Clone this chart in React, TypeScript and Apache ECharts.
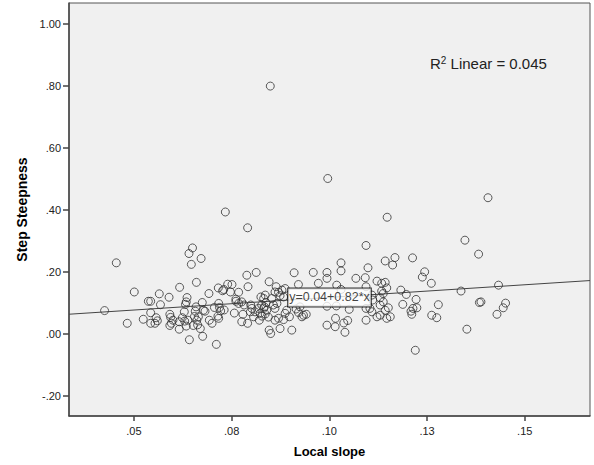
import React, { useEffect, useRef } from "react";
import * as echarts from "echarts";

// Local slope (x) values
const localSlope = [
  0.0425, 0.0455, 0.0483, 0.0501, 0.0524, 0.0537, 0.0543, 0.0565, 0.0568, 0.0543,
  0.0557, 0.0543, 0.0554, 0.0560, 0.0590, 0.0617, 0.0592, 0.0594, 0.0592, 0.0596,
  0.0600, 0.0616, 0.0616, 0.0641, 0.0650, 0.0647, 0.0672, 0.0660, 0.0636, 0.0634,
  0.0632, 0.0629, 0.0624, 0.0630, 0.0634, 0.0638, 0.0642, 0.0659, 0.0657, 0.0655,
  0.0661, 0.0652, 0.0663, 0.0670, 0.0675, 0.0678, 0.0676, 0.0692, 0.0693, 0.0700,
  0.0706, 0.0711, 0.0716, 0.0727, 0.0730, 0.0740, 0.0747, 0.0717, 0.0719, 0.0722,
  0.0715, 0.0717, 0.0731, 0.0682, 0.0665, 0.0734,
  0.0791, 0.0849, 0.0996, 0.0761, 0.0761, 0.0757, 0.0789, 0.0813, 0.0792, 0.0846,
  0.0910, 0.0959, 0.0994, 0.0751, 0.0768, 0.0768, 0.0776, 0.0782, 0.0779, 0.0776,
  0.0791, 0.0806, 0.0810, 0.0802, 0.0798, 0.0799, 0.0821, 0.0823, 0.0819, 0.0827,
  0.0832, 0.0836, 0.0825, 0.0838, 0.0832, 0.0834, 0.0840, 0.0828, 0.0836, 0.0844,
  0.0853, 0.0861, 0.0866, 0.0857, 0.0861, 0.0870, 0.0887, 0.0879, 0.0883, 0.0874,
  0.0846, 0.0850, 0.0874, 0.0904, 0.0861, 0.0870, 0.0883, 0.0887, 0.0898, 0.0891,
  0.0915, 0.0921, 0.0930, 0.0934, 0.0941, 0.0925, 0.0921, 0.0972, 0.0994, 0.0994,
  0.0864, 0.1019, 0.1030, 0.0994, 0.1018, 0.1016, 0.1037, 0.1047, 0.1040, 0.1051,
  0.1148, 0.1094, 0.1030, 0.1030, 0.1143, 0.1168, 0.1162, 0.1099, 0.1213, 0.1244,
  0.1238, 0.1068, 0.1092, 0.1094, 0.1122, 0.1134, 0.1143, 0.1147, 0.1261, 0.1183,
  0.1197, 0.1222, 0.1188, 0.1214, 0.1209, 0.1224, 0.1211, 0.1262, 0.1275, 0.1015,
  0.1094, 0.1094, 0.1220, 0.1134, 0.1138, 0.1130, 0.1138, 0.1130, 0.1151, 0.1143,
  0.1156, 0.1147, 0.1130, 0.1122, 0.1109, 0.1104, 0.1111, 0.1109,
  0.1382, 0.1347, 0.1406, 0.1337, 0.1433, 0.1279, 0.1388, 0.1384, 0.1451, 0.1445,
  0.1429, 0.1352,
];

// Step steepness (y) values, same order
const stepSteepness = [
  0.075, 0.229, 0.034, 0.135, 0.047, 0.105, 0.105, 0.129, 0.094, 0.068,
  0.052, 0.034, 0.034, 0.042, 0.118, 0.150, 0.063, 0.053, 0.027, 0.034,
  0.044, 0.015, 0.039, 0.259, 0.277, 0.224, 0.243, 0.166, 0.117, 0.103,
  0.095, 0.071, 0.052, 0.041, 0.025, 0.044, -0.019, 0.087, 0.073, 0.056,
  0.044, 0.027, 0.029, 0.017, 0.101, 0.076, -0.008, 0.130, 0.044, 0.034,
  0.085, -0.034, 0.148, 0.139, 0.143, 0.160, 0.135, 0.098, 0.085, 0.074,
  0.057, 0.050, 0.077, 0.073, 0.055, 0.393,
  0.342, 0.799, 0.501, 0.112, 0.105, 0.067, 0.189, 0.198, 0.152, 0.168,
  0.197, 0.198, 0.198, 0.159, 0.134, 0.098, 0.103, 0.093, 0.063, 0.039,
  0.034, 0.055, 0.071, 0.082, 0.071, 0.093, 0.044, 0.066, 0.082, 0.093,
  0.114, 0.125, 0.119, 0.101, 0.082, 0.087, 0.076, 0.057, 0.064, 0.054,
  0.114, 0.135, 0.098, 0.093, 0.082, 0.134, 0.146, 0.141, 0.119, 0.123,
  0.012, 0.001, 0.017, 0.012, 0.044, 0.050, 0.046, 0.066, 0.055, 0.076,
  0.080, 0.069, 0.055, 0.060, 0.063, 0.087, 0.159, 0.163, 0.179, 0.028,
  0.152, 0.157, 0.143, 0.089, 0.090, 0.050, 0.035, 0.043, 0.005, 0.079,
  0.376, 0.285, 0.229, 0.203, 0.235, 0.246, 0.222, 0.213, 0.245, 0.200,
  0.183, 0.179, 0.181, 0.152, 0.170, 0.163, 0.166, 0.148, 0.163, 0.141,
  0.127, 0.111, 0.095, 0.082, 0.073, 0.084, 0.063, 0.060, 0.052, 0.023,
  0.082, 0.044, -0.053, 0.138, 0.130, 0.116, 0.103, 0.093, 0.084, 0.076,
  0.055, 0.050, 0.060, 0.055, 0.071, 0.082, 0.109, 0.125,
  0.257, 0.302, 0.439, 0.138, 0.157, 0.094, 0.103, 0.101, 0.099, 0.084,
  0.063, 0.015,
];

const xTickValues = [0.05, 0.075, 0.1, 0.125, 0.15];
const xTickLabels = [".05", ".08", ".10", ".13", ".15"];
const yTickValues = [-0.2, 0, 0.2, 0.4, 0.6, 0.8, 1.0];
const yTickLabels = ["-.20", ".00", ".20", ".40", ".60", ".80", "1.00"];
const xRange = [0.0334, 0.1667];
const yRange = [-0.265, 1.067];

const fitIntercept = 0.036;
const fitSlope = 0.815;
const equationText = "y=0.04+0.82*x";
const rSquaredValue = "0.045";

const FONT = "'Liberation Sans', Arial, sans-serif";

function pickLabel(values: number[], labels: string[], v: number) {
  const i = values.findIndex((t) => Math.abs(t - v) < 1e-6);
  return i >= 0 ? labels[i] : "";
}

export default function App() {
  const ref = useRef<HTMLDivElement>(null);

  useEffect(() => {
    if (!ref.current) return;
    const chart = echarts.init(ref.current, undefined, { renderer: "svg" });
    const points = localSlope.map((x, i) => [x, stepSteepness[i]]);
    const fit = (x: number) => fitIntercept + fitSlope * x;
    const midX = (xRange[0] + xRange[1]) / 2;

    chart.setOption({
      animation: false,
      backgroundColor: "#ffffff",
      grid: {
        left: 69,
        right: 4,
        top: 3,
        bottom: 49,
        show: true,
        backgroundColor: "#f0f0f0",
        borderColor: "#555555",
        borderWidth: 1,
      },
      xAxis: {
        type: "value",
        min: xRange[0],
        max: xRange[1],
        name: "Local slope",
        nameLocation: "middle",
        nameGap: 29,
        nameTextStyle: { fontFamily: FONT, fontWeight: "bold", fontSize: 13, color: "#000" },
        axisLine: { show: true, onZero: false, lineStyle: { color: "#444", width: 1.5 } },
        axisTick: { show: true, length: 5, customValues: xTickValues, lineStyle: { color: "#444", width: 1.5 } },
        axisLabel: {
          customValues: xTickValues,
          margin: 9,
          fontFamily: FONT,
          fontSize: 11,
          color: "#222",
          formatter: (v: number) => pickLabel(xTickValues, xTickLabels, v),
        },
        splitLine: { show: false },
      },
      yAxis: {
        type: "value",
        min: yRange[0],
        max: yRange[1],
        name: "Step Steepness",
        nameLocation: "middle",
        nameRotate: 90,
        nameGap: 36,
        nameTextStyle: { fontFamily: FONT, fontWeight: "bold", fontSize: 14, color: "#000" },
        axisLine: { show: true, onZero: false, lineStyle: { color: "#444", width: 1.5 } },
        axisTick: { show: true, length: 6, customValues: yTickValues, lineStyle: { color: "#444", width: 1.5 } },
        axisLabel: {
          customValues: yTickValues,
          margin: 8,
          fontFamily: FONT,
          fontSize: 11,
          color: "#222",
          formatter: (v: number) => pickLabel(yTickValues, yTickLabels, v),
        },
        splitLine: { show: false },
      },
      series: [
        {
          type: "line",
          data: [
            [xRange[0], fit(xRange[0])],
            [xRange[1], fit(xRange[1])],
          ],
          showSymbol: false,
          symbol: "none",
          lineStyle: { color: "#444", width: 1 },
          z: 2,
          silent: true,
        },
        {
          type: "scatter",
          data: points,
          symbol: "circle",
          symbolSize: 8,
          itemStyle: { color: "rgba(0,0,0,0)", borderColor: "#333", borderWidth: 1 },
          z: 3,
          silent: true,
        },
        {
          type: "scatter",
          data: [[midX, fit(midX)]],
          symbolSize: 0,
          z: 10,
          silent: true,
          label: {
            show: true,
            position: "inside",
            formatter: equationText,
            fontFamily: FONT,
            fontSize: 12.5,
            color: "#111",
            backgroundColor: "#ffffff",
            borderColor: "#000",
            borderWidth: 1,
            padding: [3, 1, 2, 1],
          },
        },
      ],
      graphic: [
        {
          type: "text",
          left: 430,
          top: 55,
          style: {
            text: "{r|R}{s|2}{r| Linear = " + rSquaredValue + "}",
            rich: {
              r: { fontFamily: FONT, fontSize: 15, fill: "#222", verticalAlign: "bottom", lineHeight: 16 },
              s: { fontFamily: FONT, fontSize: 10, fill: "#222", verticalAlign: "top", lineHeight: 16 },
            },
          },
        },
      ],
    });
    return () => chart.dispose();
  }, []);

  return (
    <div
      ref={ref}
      style={{ position: "fixed", left: 0, top: 0, width: 594, height: 465 }}
    />
  );
}
